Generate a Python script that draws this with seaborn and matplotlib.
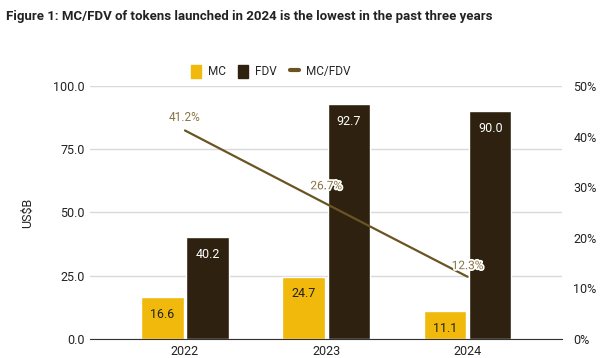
import pandas as pd
import seaborn as sns
import matplotlib.pyplot as plt
import matplotlib.patheffects as pe
from matplotlib.lines import Line2D
from matplotlib.patches import Patch

# data
years = ['2022', '2023', '2024']
mc = [16.6, 24.7, 11.1]
fdv = [40.2, 92.7, 90.0]
ratio = [41.2, 26.7, 12.3]

yellow = '#F0B90B'
brown = '#2E2110'
line_col = '#6B5424'
label_col = '#8A7342'

df = pd.DataFrame({'year': years * 2,
                   'value': mc + fdv,
                   'series': ['MC'] * 3 + ['FDV'] * 3})
df_ratio = pd.DataFrame({'year': years, 'ratio': ratio})

sns.set_style('white')
plt.rcParams['font.family'] = ['Roboto', 'DejaVu Sans']

fig, ax = plt.subplots(figsize=(6.02, 3.58), dpi=100)
fig.subplots_adjust(left=0.150, right=0.934, top=0.760, bottom=0.053)

sns.barplot(data=df, x='year', y='value', hue='series', palette=[yellow, brown],
            width=0.64, gap=0.06, saturation=1, ax=ax, legend=False)

for cont, tc in zip(ax.containers, ['#222222', 'white']):
    ax.bar_label(cont, fmt='%.1f', padding=-17, color=tc, fontsize=9)

ax.set_xlim(-0.67, 2.67)
ax.set_ylim(0, 100)
ax.set_yticks([0, 25, 50, 75, 100])
ax.set_yticklabels(['0.0', '25.0', '50.0', '75.0', '100.0'])
ax.set_xlabel('')
ax.set_ylabel('US$B', fontsize=9, color='#222222', labelpad=14)
ax.yaxis.grid(True, color='#d9d9d9', linewidth=1)
ax.set_axisbelow(True)
for s in ['left', 'right', 'top']:
    ax.spines[s].set_visible(False)
ax.spines['bottom'].set_color('#333333')
ax.tick_params(axis='both', length=0, labelsize=9, colors='#222222', pad=4)

ax2 = ax.twinx()
sns.lineplot(data=df_ratio, x='year', y='ratio', color=line_col, linewidth=1.6, ax=ax2)
ax2.set_ylim(0, 50)
ax2.set_yticks([0, 10, 20, 30, 40, 50])
ax2.set_yticklabels([f'{v}%' for v in [0, 10, 20, 30, 40, 50]])
ax2.set_ylabel('')
ax2.set_xlim(-0.67, 2.67)
for s in ['left', 'right', 'top', 'bottom']:
    ax2.spines[s].set_visible(False)
ax2.tick_params(axis='y', length=0, labelsize=9, colors='#222222', pad=8)

offsets = [9.5, 13, 8]
for i, (r, off) in enumerate(zip(ratio, offsets)):
    t = ax2.annotate(f'{r}%', (i, r), xytext=(0, off), textcoords='offset points',
                     ha='center', va='center', fontsize=8.5, color=label_col)
    if i > 0:
        t.set_path_effects([pe.withStroke(linewidth=2.5, foreground='white')])

handles = [Patch(color=yellow, label='MC'), Patch(color=brown, label='FDV'),
           Line2D([0], [0], color=line_col, linewidth=3, label='MC/FDV')]
fig.legend(handles=handles, loc='center', bbox_to_anchor=(0.45, 0.80), ncol=3,
           frameon=False, fontsize=8.5, handlelength=0.8, handleheight=1.3,
           columnspacing=1.1, handletextpad=0.6)

fig.text(0.010, 0.955, 'Figure 1: MC/FDV of tokens launched in 2024 is the lowest in the past three years',
         fontsize=9.5, fontweight='bold', color='#222222', va='center', ha='left')

fig.savefig('out.png', dpi=100)
